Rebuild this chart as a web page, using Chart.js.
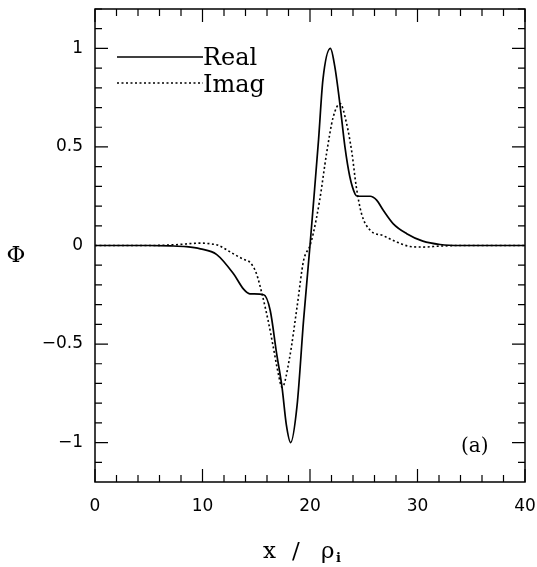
<!DOCTYPE html>
<html>
<head>
<meta charset="utf-8">
<script src="https://cdn.jsdelivr.net/npm/chart.js@4/dist/chart.umd.min.js"></script>
<style>
  html, body { margin: 0; padding: 0; background: #fff; }
  #wrap { width: 537px; height: 567px; position: relative; }
</style>
</head>
<body>
<div id="wrap"><canvas id="chart"></canvas></div>
<script>
// values
const realX = [0, 5, 7, 8.5, 9.8, 11.3, 12.9, 13.8, 14.4, 15.7, 16.3, 16.9, 17.4, 17.8, 18.2, 18.8, 19.4, 20.0, 20.3, 20.8,
  21.2, 21.9, 22.3, 22.8, 23.25, 23.7, 24.2, 24.4, 25.6, 26.2, 26.8, 27.75, 29, 30.5, 32.1, 34, 40];
const realY = [0, 0, -0.002, -0.006, -0.017, -0.045, -0.145, -0.22, -0.245, -0.25, -0.33, -0.55, -0.72, -0.91, -1.0, -0.81, -0.38, 0, 0.2, 0.54,
  0.84, 1.0, 0.91, 0.71, 0.5, 0.35, 0.26, 0.25, 0.25, 0.23, 0.18, 0.11, 0.06, 0.022, 0.005, 0, 0];

const imagX = [0, 5, 7.5, 9.8, 10.7, 11.5, 12.8, 13.8, 14.4, 15.0, 15.6, 16.1, 16.6, 17.05, 17.4, 18.1, 18.8, 19.4, 20.0, 20.3,
  20.9, 21.55, 22.15, 22.8, 23.4, 23.9, 24.3, 24.8, 25.6, 26.8, 28.1, 29.3, 30.5, 32.1, 34, 40];
const imagY = [0, 0, 0.004, 0.012, 0.009, 0, -0.04, -0.07, -0.085, -0.14, -0.26, -0.38, -0.52, -0.65, -0.72, -0.57, -0.31, -0.077, 0, 0.06,
  0.23, 0.47, 0.65, 0.72, 0.62, 0.47, 0.30, 0.16, 0.077, 0.05, 0.017, -0.005, -0.008, -0.003, 0, 0];

const xTicks = [0, 10, 20, 30, 40];
const yTicks = [-1, -0.5, 0, 0.5, 1];
const xMinorStep = 2;
const yMinorStep = 0.1;

function pts(xs, ys){ return xs.map((x,i)=>({x:x, y:ys[i]})); }

// frame, inward ticks, legend and labels
const decor = {
  id: 'decor',
  afterDraw(c){
    const ctx = c.ctx, a = c.chartArea, sx = c.scales.x, sy = c.scales.y;
    ctx.save();
    ctx.strokeStyle = '#000';
    ctx.lineWidth = 1.5;
    ctx.strokeRect(a.left, a.top, a.right-a.left, a.bottom-a.top);
    ctx.lineWidth = 1.2;
    ctx.beginPath();
    for (let v = sx.min; v <= sx.max + 1e-9; v += xMinorStep){
      const px = sx.getPixelForValue(v);
      const len = (Math.abs(v % 10) < 1e-6) ? 13 : 7;
      ctx.moveTo(px, a.bottom); ctx.lineTo(px, a.bottom - len);
      ctx.moveTo(px, a.top); ctx.lineTo(px, a.top + len);
    }
    for (let k = Math.ceil(sy.min/yMinorStep); k*yMinorStep <= sy.max + 1e-9; k++){
      const py = sy.getPixelForValue(k*yMinorStep);
      const len = (k % 5 === 0) ? 13 : 7;
      ctx.moveTo(a.left, py); ctx.lineTo(a.left + len, py);
      ctx.moveTo(a.right, py); ctx.lineTo(a.right - len, py);
    }
    ctx.stroke();

    // legend
    ctx.fillStyle = '#000';
    ctx.font = '24px "DejaVu Serif"';
    ctx.textBaseline = 'alphabetic';
    ctx.textAlign = 'left';
    ctx.lineWidth = 1.6;
    ctx.beginPath(); ctx.moveTo(117, 57); ctx.lineTo(203, 57); ctx.stroke();
    ctx.fillText('Real', 203, 65);
    ctx.setLineDash([2, 2.5]);
    ctx.beginPath(); ctx.moveTo(117, 83); ctx.lineTo(203, 83); ctx.stroke();
    ctx.setLineDash([]);
    ctx.fillText('Imag', 203, 92);

    ctx.font = '20px "DejaVu Serif"';
    ctx.fillText('(a)', 461, 452);

    // axis titles
    ctx.font = '23px "DejaVu Serif"';
    ctx.textAlign = 'center';
    ctx.fillText('\u03A6', 16, 262);
    ctx.textAlign = 'left';
    ctx.fillText('x', 263, 558);
    ctx.fillText('/', 292, 558);
    ctx.fillText('\u03C1', 321, 558);
    ctx.font = 'bold 13px "DejaVu Serif"';
    ctx.fillText('i', 336, 562);
    ctx.restore();
  }
};

new Chart(document.getElementById('chart'), {
  type: 'line',
  data: {
    datasets: [
      { label: 'Real', data: pts(realX, realY), borderColor: '#000', borderWidth: 1.7,
        pointRadius: 0, cubicInterpolationMode: 'monotone', fill: false },
      { label: 'Imag', data: pts(imagX, imagY), borderColor: '#000', borderWidth: 1.6,
        borderDash: [2, 2.5], pointRadius: 0, cubicInterpolationMode: 'monotone', fill: false }
    ]
  },
  options: {
    responsive: true,
    maintainAspectRatio: false,
    animation: false,
    layout: { padding: { left: 0, top: 9, right: 12, bottom: 0 } },
    plugins: { legend: { display: false }, tooltip: { enabled: false } },
    scales: {
      x: {
        type: 'linear', min: 0, max: 40,
        afterBuildTicks: s => { s.ticks = xTicks.map(v => ({value: v})); },
        afterFit: s => { s.height = 85; s.paddingLeft = 0; s.paddingRight = 0; },
        grid: { display: false, drawTicks: false },
        border: { display: false },
        ticks: { color: '#000', padding: 14, font: { family: 'DejaVu Sans', size: 17 }, maxRotation: 0 }
      },
      y: {
        type: 'linear', min: -1.2, max: 1.2,
        afterBuildTicks: s => { s.ticks = yTicks.map(v => ({value: v})); },
        afterFit: s => { s.width = 95; s.paddingTop = 0; s.paddingBottom = 0; },
        grid: { display: false, drawTicks: false },
        border: { display: false },
        ticks: { color: '#000', padding: 12, font: { family: 'DejaVu Sans', size: 17 },
          callback: v => String(v).replace('-', '\u2212') }
      }
    }
  },
  plugins: [decor]
});
</script>
</body>
</html>
